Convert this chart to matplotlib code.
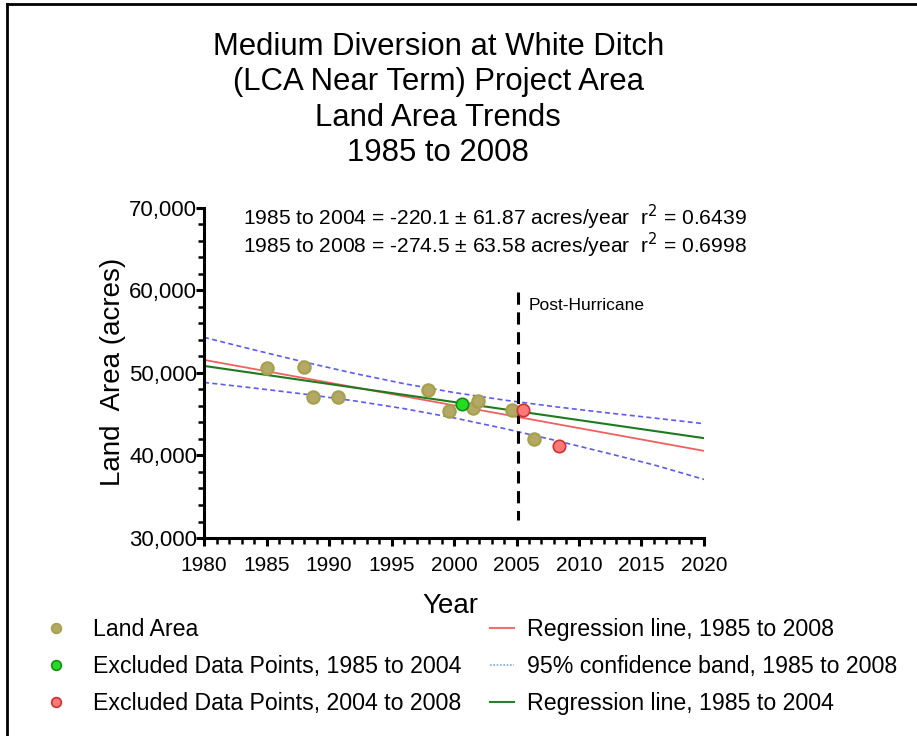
import matplotlib
matplotlib.use('Agg')
import matplotlib.pyplot as plt
from matplotlib.lines import Line2D
from matplotlib.ticker import MultipleLocator, FuncFormatter

plt.rcParams['font.family'] = ['Liberation Sans', 'DejaVu Sans']

# land area points (year, acres)
land_years = [1985.0, 1988.0, 1988.7, 1990.7, 1997.9, 1999.6, 2001.5, 2001.9, 2004.6, 2006.4]
land_acres = [50570, 50770, 47130, 47050, 47940, 45390, 45720, 46640, 45520, 42000]

# excluded points
excl04_years = [2000.6]
excl04_acres = [46240]
excl08_years = [2005.5, 2008.4]
excl08_acres = [45520, 41150]

# regression lines (end points)
line_years = [1980, 2020]
reg08_acres = [51580, 40560]
reg04_acres = [50850, 42100]

# 95% confidence band, 1985 to 2008
band_years = [1980, 1984, 1988, 1992, 1996, 2000, 2004, 2008, 2012, 2016, 2020]
band_upper = [54310, 52795, 51329, 49949, 48701, 47625, 46715, 45925, 45209, 44538, 43850]
band_lower = [48850, 48169, 47439, 46623, 45675, 44555, 43269, 41863, 40383, 38858, 37100]

hurricane_year = 2005.1

fig = plt.figure(figsize=(9.17, 7.36), dpi=100)
ax = fig.add_axes([0.2225, 0.269, 0.5452, 0.4486])

ax.plot(line_years, reg08_acres, color='#f06060', lw=1.3, zorder=2)
ax.plot(line_years, reg04_acres, color='#1f7a1f', lw=1.5, zorder=2)
ax.plot(band_years, band_upper, color='#5b5bf0', lw=1.2, ls=(0, (3, 2)), zorder=2)
ax.plot(band_years, band_lower, color='#5b5bf0', lw=1.2, ls=(0, (3, 2)), zorder=2)
ax.plot([hurricane_year, hurricane_year], [59800, 32200], color='black', lw=2.2,
        ls=(0, (4, 2.5)), zorder=3)

ax.scatter(land_years, land_acres, s=80, c='#b3a866', edgecolors='#a5a04a', lw=1.5, zorder=4)
ax.scatter(excl04_years, excl04_acres, s=80, c='#22dd22', edgecolors='#1a8a1a', lw=1.2, zorder=5)
ax.scatter(excl08_years, excl08_acres, s=80, c='#ff7777', edgecolors='#cc3333', lw=1.2, zorder=5)

ax.set_xlim(1980, 2020)
ax.set_ylim(30000, 70000)
ax.xaxis.set_major_locator(MultipleLocator(5))
ax.xaxis.set_minor_locator(MultipleLocator(1))
ax.yaxis.set_major_locator(MultipleLocator(10000))
ax.yaxis.set_minor_locator(MultipleLocator(2000))
ax.yaxis.set_major_formatter(FuncFormatter(lambda v, p: '{:,.0f}'.format(v)))
for s in ['top', 'right']:
    ax.spines[s].set_visible(False)
for s in ['left', 'bottom']:
    ax.spines[s].set_linewidth(2.2)
ax.tick_params(which='major', length=6, width=2.2, direction='out', labelsize=15)
ax.tick_params(which='minor', length=4, width=1.8, direction='out')
ax.tick_params(axis='y', which='major', pad=-1, labelsize=16)
ax.tick_params(axis='x', which='major', pad=7)

ax.set_xlabel('Year', fontsize=20)
ax.xaxis.set_label_coords(0.492, -0.167)
ax.set_ylabel('Land  Area (acres)', fontsize=20)
ax.yaxis.set_label_coords(-0.156, 0.503)

fig.text(0.478, 0.957, 'Medium Diversion at White Ditch\n(LCA Near Term) Project Area\nLand Area Trends\n1985 to 2008',
         ha='center', va='top', fontsize=22.4, linespacing=1.24)

ax.text(1983.1, 68800, '1985 to 2004 = -220.1 \u00b1 61.87 acres/year  r$^2$ = 0.6439',
        fontsize=15.1, va='center')
ax.text(1983.1, 65400, '1985 to 2008 = -274.5 \u00b1 63.58 acres/year  r$^2$ = 0.6998',
        fontsize=15.1, va='center')
ax.text(hurricane_year + 0.9, 58200, 'Post-Hurricane', fontsize=12.5, va='center')

# legends
left_handles = [
    Line2D([], [], ls='none', marker='o', ms=7, mfc='#b3a866', mec='#a5a04a', mew=1.2),
    Line2D([], [], ls='none', marker='o', ms=7, mfc='#22dd22', mec='#1a8a1a', mew=1.2),
    Line2D([], [], ls='none', marker='o', ms=7, mfc='#ff7777', mec='#cc3333', mew=1.2),
]
left_labels = ['Land Area', 'Excluded Data Points, 1985 to 2004', 'Excluded Data Points, 2004 to 2008']
right_handles = [
    Line2D([], [], color='#f07070', lw=1.5),
    Line2D([], [], color='#7aa6f0', lw=1.2, ls=(0, (1, 1))),
    Line2D([], [], color='#2e7d2e', lw=1.5),
]
right_labels = ['Regression line, 1985 to 2008', '95% confidence band, 1985 to 2008', 'Regression line, 1985 to 2004']

leg_kw = dict(frameon=False, fontsize=16.7, labelspacing=0.6,
              borderaxespad=0, borderpad=0)
fig.legend(left_handles, left_labels, loc='upper left', bbox_to_anchor=(0.043, 0.160),
           handlelength=1.44, handletextpad=0.88, **leg_kw)
fig.legend(right_handles, right_labels, loc='upper left', bbox_to_anchor=(0.534, 0.160),
           handlelength=1.07, handletextpad=0.56, **leg_kw)

# figure border (top and left only)
fig.add_artist(Line2D([7 / 917, 1], [1 - 4 / 736, 1 - 4 / 736], color='black', lw=2))
fig.add_artist(Line2D([7 / 917, 7 / 917], [0, 1 - 4 / 736], color='black', lw=2))

fig.savefig('out.png', dpi=100)
